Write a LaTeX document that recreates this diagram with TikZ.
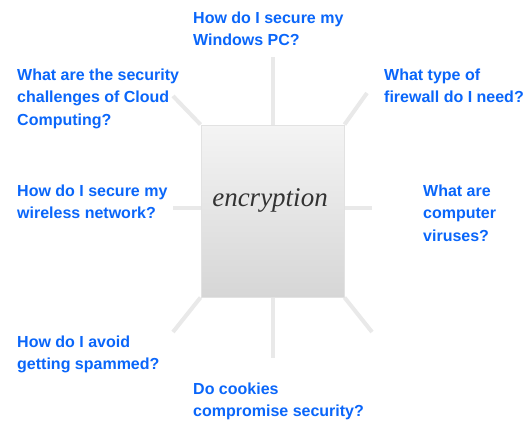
\documentclass[tikz,border=0pt]{standalone}
\usepackage{fontspec}
\setmainfont{Liberation Sans}
\newfontfamily\serifit{Liberation Serif}
\begin{document}
\begin{tikzpicture}[x=1pt,y=-1pt,
  % multi-line nodes: the base anchor sits on the last line's baseline
  question/.style={anchor=base west,align=left,inner sep=0pt,text=qblue,
    font=\fontsize{16}{22.5}\selectfont\bfseries},
  spoke/.style={draw=spokegray,line width=4pt},
  hub/.style={draw=boxedge,line width=1pt,top color=boxtop,bottom color=boxbottom,
    minimum width=143pt,minimum height=172pt,inner sep=0pt}]
\definecolor{qblue}{HTML}{0A66FA}
\definecolor{spokegray}{HTML}{E9E9E9}
\definecolor{boxedge}{HTML}{E2E2E2}
\definecolor{boxtop}{HTML}{F4F4F4}
\definecolor{boxbottom}{HTML}{D6D6D6}
\definecolor{hubtext}{HTML}{333333}
\useasboundingbox (0,0) rectangle (532,424);
\fill[white] (0,0) rectangle (532,424);

% free ends of the spokes
\coordinate (eN)  at (273,57);
\coordinate (eS)  at (273,358);
\coordinate (eW)  at (173,208);
\coordinate (eE)  at (372,208);
\coordinate (eNW) at (173,96);
\coordinate (eNE) at (367,93);
\coordinate (eSW) at (173,332);
\coordinate (eSE) at (372,332);

% central box
\node[hub] (box) at (272.5,211) {};

% spokes from the box
\draw[spoke] (box.north) ++(0.5,0) -- (eN);
\draw[spoke] (box.south) ++(0.5,0) -- (eS);
\draw[spoke] (box.west |- eW) -- (eW);
\draw[spoke] (box.east |- eE) -- (eE);
\draw[spoke] (box.north west) -- (eNW);
\draw[spoke] (box.north east) -- (eNE);
\draw[spoke] (box.south west) -- (eSW);
\draw[spoke] (box.south east) -- (eSE);

% redraw the box over the spoke ends
\node[hub] (hubbox) at (272.5,211) {};
\node[text=hubtext,font=\serifit\itshape\fontsize{27}{30}\selectfont,anchor=base]
  (label) at (270,206) {encryption};

% questions around the box
\node[question] (qN)  at (193,45.5)  {How do I secure my\\Windows PC?};
\node[question] (qNW) at (17,125)    {What are the security\\challenges of Cloud\\Computing?};
\node[question] (qNE) at (384,102.5) {What type of\\firewall do I need?};
\node[question] (qW)  at (17,218.5)  {How do I secure my\\wireless network?};
\node[question] (qE)  at (423,241)   {What are\\computer\\viruses?};
\node[question] (qSW) at (17,369.5)  {How do I avoid\\getting spammed?};
\node[question] (qS)  at (193,416.5) {Do cookies\\compromise security?};
\end{tikzpicture}
\end{document}
